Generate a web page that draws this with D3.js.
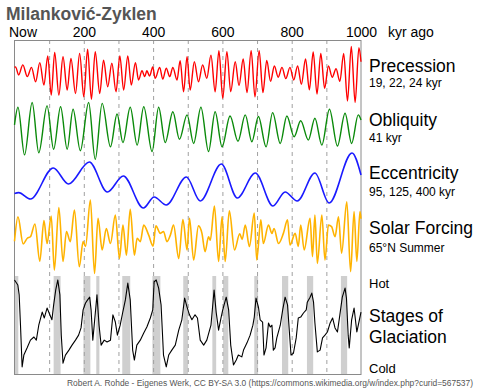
<!DOCTYPE html>
<html><head><meta charset="utf-8">
<script src="https://cdn.jsdelivr.net/npm/d3@7"></script>
<style>body{margin:0;background:#fff}svg{display:block}text{font-family:"Liberation Sans",Arial,sans-serif}</style>
</head><body><svg id="c" width="480" height="390"></svg>
<script>
// ---- data (kyr ago, value) ----
const tickValues = [0, 200, 400, 600, 800, 1000];
const tickLabels = ["Now", "200", "400", "600", "800", "1000"];
const gridValues = [100, 200, 300, 400, 500, 600, 700, 800, 900];

// precession index (relative units, -100..100)
const precession = [[0,20],[3,22],[12,-7],[24,29],[37,-13],[49,20],[61,-31],[73,37],[85,-43],[96,61],[106,-79],[116,73],[128,-79],[140,58],[152,-61],[163,52],[176,-73],[188,70],[200,-85],[211,85],[222,-94],[233,76],[246,-73],[257,46],[269,-49],[281,35],[293,-67],[304,61],[315,-61],[327,61],[337,-43],[349,37],[358,-25],[368,8],[376,-13],[382,8],[390,-11],[399,22],[406,-19],[419,20],[428,-22],[438,17],[448,-13],[457,20],[469,-25],[478,44],[488,-67],[498,58],[507,-61],[519,40],[531,-31],[543,29],[555,-19],[567,64],[579,-67],[590,80],[601,-90],[613,76],[624,-67],[637,40],[648,-45],[660,50],[671,-70],[683,80],[694,-85],[706,80],[717,-70],[728,45],[739,-30],[750,25],[761,-15],[772,20],[783,-20],[795,20],[806,-25],[817,25],[828,-40],[840,50],[851,-60],[862,75],[873,-75],[884,70],[895,-55],[906,25],[917,-15],[928,15],[939,-30],[950,70],[961,-100],[972,95],[983,-105],[994,90],[1000,40]];

// obliquity (relative units)
const obliquity = [[0,18],[10,81],[29,-89],[51,98],[70,-81],[94,86],[113,-69],[133,83],[152,-69],[169,74],[190,-74],[214,98],[233,-105],[253,95],[277,-60],[296,57],[313,-45],[334,81],[354,-54],[373,83],[397,-77],[416,81],[435,-45],[457,65],[476,-33],[498,54],[517,-48],[538,81],[560,-77],[579,65],[599,-60],[622,50],[645,-40],[666,54],[685,-42],[704,48],[726,-60],[745,62],[767,-48],[786,50],[807,-24],[826,33],[848,-36],[867,42],[887,-54],[909,74],[932,-57],[954,60],[973,-48],[992,54],[1000,36]];

// eccentricity
const eccentricity = [[0,0.018],[12,0.0188],[46,0.0129],[112,0.0416],[156,0.0268],[216,0.0471],[268,0.0194],[314,0.0342],[372,0.0046],[403,0.0148],[438,0.0074],[496,0.0332],[536,0.0111],[597,0.0452],[643,0.0139],[695,0.0369],[746,0.0065],[781,0.0194],[816,0.0111],[867,0.0369],[908,0.0092],[974,0.0554],[1000,0.0351]];

// solar forcing 65N summer (relative units)
const solar = [[0,-10],[10,55],[25,-17],[37,-2],[46,2],[59,36],[73,-63],[85,45],[94,-16],[106,57],[115,-87],[128,80],[140,-64],[150,16],[161,-11],[173,73],[187,-78],[198,-11],[205,-24],[219,100],[231,-96],[241,51],[253,-33],[265,24],[277,-16],[291,60],[303,-56],[313,33],[323,-47],[334,75],[346,-47],[354,-2],[363,-11],[373,33],[387,7],[400,-23],[408,31],[421,11],[430,16],[440,-11],[450,7],[459,33],[474,-56],[486,48],[498,-33],[505,51],[517,-60],[531,31],[541,11],[550,-38],[560,2],[565,-7],[577,84],[589,-64],[599,55],[608,-64],[620,71],[635,-33],[650,10],[657,-5],[666,33],[678,-24],[692,65],[699,-60],[711,47],[718,-16],[733,33],[743,11],[749,24],[762,-16],[776,11],[788,47],[795,-20],[810,11],[819,-24],[826,33],[836,-33],[853,51],[860,-51],[867,60],[874,-69],[887,60],[896,-60],[906,33],[915,29],[925,2],[935,55],[944,-42],[959,95],[970,-91],[980,69],[988,-64],[997,69],[1000,50]];

// benthic d18O (permil), low = warm
const glaciation = [[0,3.11],[9.6,3.22],[13.5,3.44],[17.3,4.11],[22,5.03],[27,4.77],[36.5,4.61],[46,4.44],[56,4.37],[63,4.44],[70,4.11],[80,3.82],[86,3.95],[94,3.73],[102,3.88],[108,3.99],[113,3.66],[119,3.33],[125,3.11],[131,3.44],[135,4.33],[140,4.95],[147,4.77],[157,4.66],[166,4.55],[176,4.44],[185,4.33],[192,4.17],[198,3.77],[205,3.62],[211,3.55],[217,3.49],[221,3.77],[226,4.44],[230,4.11],[238,3.44],[244,4.11],[250,4.55],[259,4.44],[267,4.48],[277,4.44],[284,3.88],[291,4.04],[297,4.33],[305,4.11],[312,3.84],[320,3.55],[327,3.18],[334,3.55],[341,4.66],[346,4.88],[353,4.55],[363,4.44],[373,4.28],[382,4.15],[392,3.95],[399,3.77],[403,3.15],[409,3.11],[416,3.29],[423,3.66],[430,4.77],[438,5.03],[445,4.77],[454,4.66],[464,4.55],[474,4.22],[483,3.99],[491,3.51],[498,3.71],[505,3.88],[512,3.99],[521,3.88],[528,3.95],[536,4.44],[546,4.55],[555,4.44],[567,4.11],[576,3.33],[582,3.82],[589,4.22],[596,3.95],[601,3.77],[611,3.49],[618,3.77],[624,4.55],[632,4.99],[640,4.88],[646,4.77],[656,4.81],[661,4.66],[671,4.50],[680,4.33],[688,4.11],[692,3.93],[697,3.51],[704,3.71],[709,3.99],[716,4.04],[720,4.77],[726,4.61],[733,4.06],[738,4.15],[743,4.11],[747,4.66],[752,4.61],[757,4.39],[767,4.11],[774,3.77],[781,3.49],[788,3.66],[793,4.22],[798,4.77],[805,4.73],[813,4.39],[819,3.95],[826,3.93],[834,3.84],[842,3.77],[845,3.60],[853,3.49],[858,3.40],[863,3.60],[867,4.06],[874,4.70],[882,4.66],[889,4.39],[896,4.33],[903,4.26],[911,4.06],[918,3.95],[925,4.17],[932,4.26],[939,3.88],[946,3.49],[954,3.29],[958,3.51],[963,4.33],[966,4.61],[973,3.99],[980,3.73],[988,4.26],[994,4.04],[1000,3.82]];

// interglacial bands (kyr)
const interglacials = [[0,11],[113,133],[199,219],[236,245],[311,334],[398,421],[487,501],[571,582],[602,617],[692,703],[772,790],[844,862],[942,960]];

const labels = [
  {name:"Precession", sub:"19, 22, 24 kyr", y:72, sy:87},
  {name:"Obliquity", sub:"41 kyr", y:126, sy:142},
  {name:"Eccentricity", sub:"95, 125, 400 kyr", y:179, sy:196},
  {name:"Solar Forcing", sub:"65\u00b0N Summer", y:234, sy:252}
];

// ---- drawing ----
const svg = d3.select("#c");
const L = 14.5, R = 361, T = 40, B = 374;
const x = d3.scaleLinear().domain([0, 1000]).range([L, R]);

const yPrec = d3.scaleLinear().domain([-100, 100]).range([101, 45]);
const yObl = d3.scaleLinear().domain([-100, 100]).range([158, 102]);
const yEcc = d3.scaleLinear().domain([0, 0.06]).range([213, 148]);
const ySol = d3.scaleLinear().domain([-100, 100]).range([275, 200]);
const yGla = d3.scaleLinear().domain([3.0, 5.1]).range([275, 370]);

// title
svg.append("text").attr("x", 6).attr("y", 20).attr("font-size", 17.5).attr("font-weight", "bold")
  .attr("fill", "#555").text("Milankovi\u0107-Zyklen");

// interglacial bands
svg.append("g").selectAll("rect").data(interglacials).join("rect")
  .attr("x", d => x(d[0])).attr("width", d => x(d[1]) - x(d[0]))
  .attr("y", 276).attr("height", B - 276).attr("fill", "#cfcfcf");

// grid
svg.append("g").selectAll("line").data(gridValues).join("line")
  .attr("x1", d => x(d) + 0.5).attr("x2", d => x(d) + 0.5).attr("y1", T).attr("y2", B)
  .attr("stroke", "#a0a0a0").attr("stroke-width", 1).attr("stroke-dasharray", "4,4");

// frame
svg.append("rect").attr("x", L).attr("y", T + 0.5).attr("width", R - L).attr("height", B - T)
  .attr("fill", "none").attr("stroke", "#8a8a8a").attr("stroke-width", 1);

// axis
const ax = svg.append("g").attr("transform", `translate(0,${T})`)
  .call(d3.axisTop(x).tickValues(tickValues).tickFormat((d, i) => tickLabels[i]).tickSize(0).tickPadding(3));
ax.select(".domain").remove();
ax.selectAll("text").attr("font-size", 14).attr("fill", "#000").attr("font-family", '"Liberation Sans",Arial,sans-serif');
ax.selectAll("text").filter((d, i) => i === 0).attr("x", 8);
svg.append("text").attr("x", 388).attr("y", 37).attr("font-size", 14).text("kyr ago");

function draw(data, y, color, curve, w) {
  svg.append("path").datum(data)
    .attr("d", d3.line().x(d => x(d[0])).y(d => y(d[1])).curve(curve))
    .attr("fill", "none").attr("stroke", color).attr("stroke-width", w).attr("stroke-linejoin", "round");
}
draw(precession, yPrec, "#ff0000", d3.curveMonotoneX, 1.4);
draw(obliquity, yObl, "#0a8a0a", d3.curveMonotoneX, 1.4);
draw(eccentricity, yEcc, "#1a1aff", d3.curveMonotoneX, 1.6);
draw(solar, ySol, "#ffb300", d3.curveMonotoneX, 1.6);
draw(glaciation, yGla, "#000000", d3.curveLinear, 1.1);

// right labels
const lg = svg.append("g");
labels.forEach(l => {
  lg.append("text").attr("x", 369).attr("y", l.y).attr("font-size", 17.5).text(l.name);
  lg.append("text").attr("x", 369).attr("y", l.sy).attr("font-size", 12).text(l.sub);
});
lg.append("text").attr("x", 369).attr("y", 288).attr("font-size", 13).text("Hot");
lg.append("text").attr("x", 369).attr("y", 322).attr("font-size", 17.5).text("Stages of");
lg.append("text").attr("x", 369).attr("y", 343).attr("font-size", 17.5).text("Glaciation");
lg.append("text").attr("x", 369).attr("y", 373).attr("font-size", 13).text("Cold");

// credit
svg.append("text").attr("x", 67).attr("y", 386).attr("font-size", 8.5).attr("fill", "#555")
  .attr("textLength", 406).attr("lengthAdjust", "spacingAndGlyphs")
  .text("Robert A. Rohde - Eigenes Werk, CC BY-SA 3.0 (https://commons.wikimedia.org/w/index.php?curid=567537)");
</script></body></html>
